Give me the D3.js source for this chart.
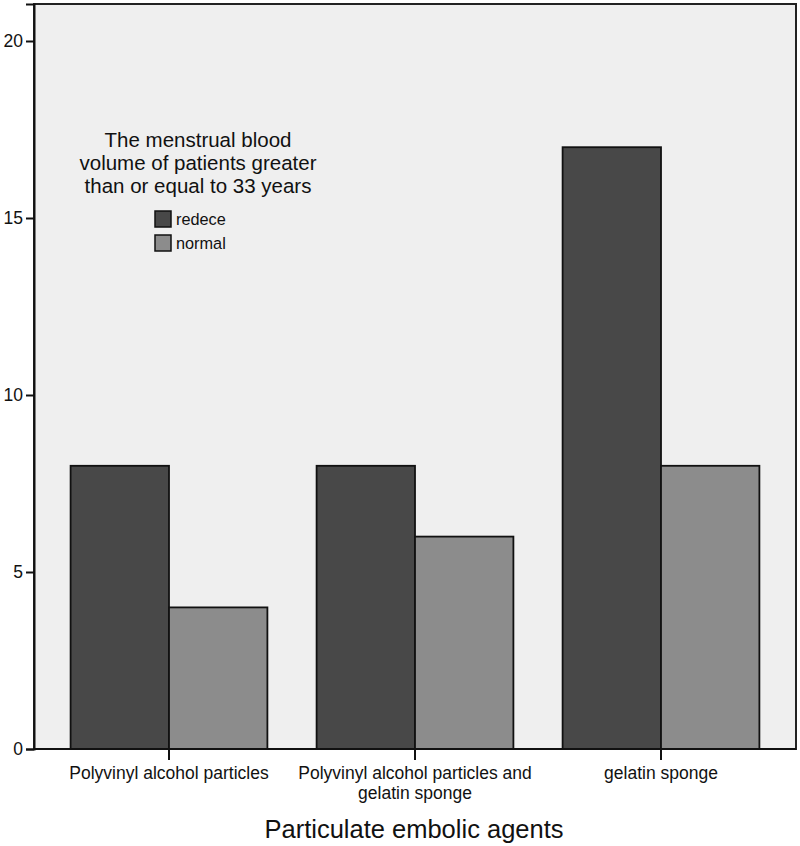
<!DOCTYPE html>
<html>
<head>
<meta charset="utf-8">
<script src="https://cdn.jsdelivr.net/npm/d3@7"></script>
<style>
  body { margin: 0; background: #fff; }
  text { font-family: Arial, "Liberation Sans", sans-serif; fill: #111; }
</style>
</head>
<body>
<svg id="chart" width="800" height="846"></svg>
<script>
const categories = [
  ['Polyvinyl alcohol particles'],
  ['Polyvinyl alcohol particles and', 'gelatin sponge'],
  ['gelatin sponge']
];
const seriesNames = ['redece', 'normal'];
const redece = [8, 8, 17];
const normal = [4, 6, 8];
const yTicks = [0, 5, 10, 15, 20];
const legendTitle = ['The menstrual blood', 'volume of patients greater', 'than or equal to 33 years'];
const xTitle = 'Particulate embolic agents';

const colors = { redece: '#484848', normal: '#8c8c8c' };

const svg = d3.select('#chart');

// plot frame
const plotLeft = 34, plotRight = 796, plotTop = 4, plotBottom = 749;

svg.append('rect')
  .attr('x', plotLeft)
  .attr('y', plotTop)
  .attr('width', plotRight - plotLeft)
  .attr('height', plotBottom - plotTop)
  .attr('fill', '#efefef');

const y = d3.scaleLinear()
  .domain([0, (plotBottom - plotTop) / 35.4])
  .range([plotBottom, plotTop]);

const x = d3.scaleBand()
  .domain(d3.range(categories.length))
  .range([46, 784])
  .paddingInner(0.2)
  .paddingOuter(0.1);

const xs = d3.scaleBand()
  .domain(seriesNames)
  .range([0, x.bandwidth()]);

const rows = categories.map((c, i) => ({ i, redece: redece[i], normal: normal[i] }));

// bars
const groups = svg.append('g').selectAll('g')
  .data(rows)
  .join('g')
  .attr('transform', d => `translate(${x(d.i)},0)`);

groups.selectAll('rect')
  .data(d => seriesNames.map(s => ({ s, v: d[s] })))
  .join('rect')
  .attr('x', d => xs(d.s))
  .attr('y', d => y(d.v))
  .attr('width', xs.bandwidth())
  .attr('height', d => y(0) - y(d.v))
  .attr('fill', d => colors[d.s])
  .attr('stroke', '#111')
  .attr('stroke-width', 1.8);

// frame outline
svg.append('rect')
  .attr('x', plotLeft)
  .attr('y', plotTop)
  .attr('width', plotRight - plotLeft)
  .attr('height', plotBottom - plotTop)
  .attr('fill', 'none')
  .attr('stroke', '#222')
  .attr('stroke-width', 2);

// y axis
const yAxis = svg.append('g')
  .attr('transform', `translate(${plotLeft},0)`)
  .call(d3.axisLeft(y).tickValues(yTicks).tickSize(8).tickPadding(3));
yAxis.select('.domain').attr('stroke', '#111').attr('stroke-width', 2);
yAxis.selectAll('.tick line').attr('stroke', '#111').attr('stroke-width', 2);
yAxis.selectAll('.tick text')
  .attr('font-size', 17.5)
  .attr('font-family', 'Arial, "Liberation Sans", sans-serif')
  .attr('fill', '#111');

// x axis
const xAxis = svg.append('g')
  .attr('transform', `translate(0,${plotBottom})`)
  .call(d3.axisBottom(x).tickSize(11).tickFormat(''));
xAxis.select('.domain').remove();
xAxis.selectAll('.tick line').attr('stroke', '#111').attr('stroke-width', 2);
svg.append('line')
  .attr('x1', plotLeft).attr('x2', plotRight)
  .attr('y1', plotBottom).attr('y2', plotBottom)
  .attr('stroke', '#111').attr('stroke-width', 2);

xAxis.selectAll('.tick')
  .append('text')
  .attr('text-anchor', 'middle')
  .attr('font-size', 17.5)
  .attr('font-family', 'Arial, "Liberation Sans", sans-serif')
  .attr('fill', '#111')
  .selectAll('tspan')
  .data(d => categories[d])
  .join('tspan')
  .attr('x', 0)
  .attr('y', (d, k) => 30 + k * 20)
  .text(d => d);

svg.append('text')
  .attr('x', 414)
  .attr('y', 838)
  .attr('text-anchor', 'middle')
  .attr('font-size', 25.5)
  .text(xTitle);

// legend
const legend = svg.append('g');
legend.selectAll('text.title')
  .data(legendTitle)
  .join('text')
  .attr('class', 'title')
  .attr('x', 198)
  .attr('y', (d, i) => 147 + i * 23)
  .attr('text-anchor', 'middle')
  .attr('font-size', 20.5)
  .text(d => d);

const items = legend.selectAll('g.item')
  .data(seriesNames)
  .join('g')
  .attr('class', 'item')
  .attr('transform', (d, i) => `translate(155,${211 + i * 24})`);
items.append('rect')
  .attr('width', 16)
  .attr('height', 16)
  .attr('fill', d => colors[d])
  .attr('stroke', '#111')
  .attr('stroke-width', 1.5);
items.append('text')
  .attr('x', 21)
  .attr('y', 14)
  .attr('font-size', 16.3)
  .text(d => d);
</script>
</body>
</html>
